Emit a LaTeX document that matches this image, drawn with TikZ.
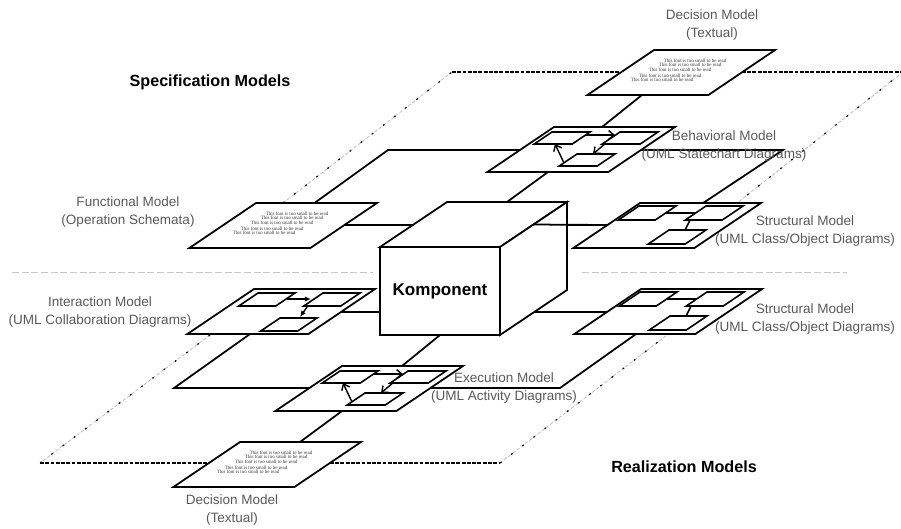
\documentclass[tikz,border=0pt]{standalone}
\usepackage{fontspec}
\setmainfont{Liberation Sans}
\newfontfamily\tinyserif{Liberation Serif}
\usetikzlibrary{calc,arrows.meta}

% parallelogram: [style] top left corner, width, height
\newcommand{\slab}[4][plane]{\draw[#1] (#2) -- ++(#3,0) -- ++({-1.48*#4},#4) -- ++(-#3,0) -- cycle;}

% statechart / activity sketch, inside a shifted scope
\newcommand{\statechart}[1]{%
  \slab[box]{-2,5}{38}{12}
  \slab[box]{66,5}{38}{12}
  \slab[box]{23,27}{38}{12}
  \coordinate (#1-a1) at (32,8);  \coordinate (#1-b1) at (61,8);
  \coordinate (#1-b2) at (52,16); \coordinate (#1-c1) at (39,27);
  \coordinate (#1-c2) at (10,36); \coordinate (#1-a2) at (1,17);
  \draw[flow] (#1-a1) -- (#1-b1);
  \draw[flow] (#1-b2) -- (#1-c1);
  \draw[flow] (#1-c2) -- (#1-a2);
}

% class / object sketch, inside a shifted scope
\newcommand{\classes}[1]{%
  \slab[box]{-1,3}{37}{14}
  \slab[box]{66,3}{37}{14}
  \slab[box]{29,27}{37}{14}
  \coordinate (#1-a) at (26,10); \coordinate (#1-b) at (56,10);
  \coordinate (#1-b2) at (50,17); \coordinate (#1-c) at (45,27);
  \draw[box] (#1-a) -- (#1-b);
  \draw[box] (#1-b2) -- (#1-c);
}

% text that is too small to be read
\newcommand{\smalltext}[1]{%
  \foreach \dx/\dy [count=\k] in {41/11,36/15,26/20,16/26,8/30}
    \node[small] (#1-t\k) at ($(#1-tl)+(\dx,\dy)$) {This font is too small to be read};
}

\tikzset{
  plane/.style={draw, fill=white, line width=1pt, line join=miter},
  box/.style={draw, fill=white, line width=0.9pt, line join=miter},
  link/.style={draw, line width=1pt},
  flow/.style={line width=0.8pt, -{Straight Barb[length=3pt,width=5pt]}},
  msg/.style={line width=0.8pt, -{Latex[length=3.5pt,width=3pt]}},
  kube/.style={draw, fill=white, line width=1pt, outer sep=0pt, minimum width=2.4cm, minimum height=1.76cm, font=\bfseries\fontsize{9.7}{11}\selectfont},
  label/.style={align=center, text=black!65, inner sep=0pt, font=\fontsize{7.7}{10.3}\selectfont},
  title/.style={inner sep=0pt, font=\bfseries\fontsize{9.2}{11}\selectfont},
  small/.style={inner sep=0pt, text=black!80, font=\tinyserif\fontsize{2.8}{3}\selectfont},
  rimdash/.style={line width=1.1pt, dash pattern=on 2.2pt off 0.8pt},
  sidedash/.style={draw=gray!55, line width=0.4pt, dash pattern=on 2pt off 1pt, postaction={draw=black, line width=0.7pt, dash pattern=on 1pt off 7pt}},
  cutline/.style={draw=gray!45, line width=0.5pt, dash pattern=on 4pt off 1.5pt},
}

\begin{document}
\begin{tikzpicture}[x=0.02cm, y=-0.02cm]
\useasboundingbox (0,0) rectangle (901,528);

%Cut between the two levels
\draw[cutline] (12,272) -- (373,272);
\draw[cutline] (582,272) -- (847,272);

%Specification level
\draw[sidedash] (283,203) -- (452,72);
\draw[rimdash] (452,72) -- (903,72);
\draw[sidedash] (903,72) -- (737,203);
\draw[link] (388,150) -- (783,150) -- (670,225) -- (284,225) -- cycle;

%Realization level
\draw[sidedash] (210,335) -- (40,463);
\draw[rimdash] (40,463) -- (500,463);
\draw[sidedash] (500,463) -- (667,335);
\draw[link] (281,312) -- (667,312) -- (560,388) -- (174,388) -- cycle;

%Component cube
\node[kube] (komp) at (440,291) {Komponent};
\draw[plane] (komp.north west) -- ++(67,-45) -- ++(120,0) -- (komp.north east) -- cycle;
\draw[plane] (komp.north east) -- ++(67,-45) -- ++(0,88) -- (komp.south east) -- cycle;
\coordinate (cube-back) at ($(komp.north)+(67,-45)$);
\coordinate (cube-right) at ($(komp.north east)+(33.5,-22.5)$);

%Connectors
\coordinate (decS-out) at (642,95);
\coordinate (beh-in) at (602,127);
\coordinate (beh-out) at (548,172);
\coordinate (strS-in) at (608,225);
\coordinate (exe-in) at (402,366);
\coordinate (exe-out) at (342,411);
\coordinate (decR-in) at (300,442);
\draw[link] (decS-out) -- (beh-in);
\draw[link] (beh-out) -- (cube-back);
\draw[link] (cube-right) -- (strS-in);
\draw[link] (komp.south) -- (exe-in);
\draw[link] (exe-out) -- (decR-in);

%Specification models
\coordinate (decS-tl) at (654,50);
\coordinate (beh-tl) at (554,127);
\coordinate (fun-tl) at (256,203);
\coordinate (strS-tl) at (640,203);
\slab{decS-tl}{121}{45}
\smalltext{decS}
\slab{beh-tl}{121}{45}
\begin{scope}[shift={(beh-tl)}]
  \statechart{beh}
\end{scope}
\slab{fun-tl}{121}{45}
\smalltext{fun}
\slab{strS-tl}{121}{45}
\begin{scope}[shift={(strS-tl)}]
  \classes{strS}
\end{scope}

%Realization models
\coordinate (inter-tl) at (254,289);
\coordinate (strR-tl) at (641,289);
\coordinate (exe-tl) at (342,366);
\coordinate (decR-tl) at (240,442);
\slab{inter-tl}{121}{45}
\begin{scope}[shift={(inter-tl)}]
  \slab[box]{4,4}{37}{13}
  \slab[box]{69,4}{37}{13}
  \slab[box]{26,29}{37}{13}
  \coordinate (inter-a) at (33,10); \coordinate (inter-b) at (57,10);
  \coordinate (inter-b2) at (53,18); \coordinate (inter-c) at (46,28);
  \draw[msg] (inter-a) -- (inter-b);
  \draw[msg] (inter-b2) -- (inter-c);
\end{scope}
\slab{strR-tl}{121}{45}
\begin{scope}[shift={(strR-tl)}]
  \classes{strR}
\end{scope}
\slab{exe-tl}{121}{45}
\begin{scope}[shift={(exe-tl)}]
  \statechart{exe}
\end{scope}
\slab{decR-tl}{121}{45}
\smalltext{decR}

%Labels
\node[title] (spec) at (210,82) {Specification Models};
\node[title] (real) at (684,467) {Realization Models};
\node[label] (decS-lbl) at (712,25) {Decision Model\\(Textual)};
\node[label] (beh-lbl) at (724,146) {Behavioral Model\\(UML Statechart Diagrams)};
\node[label] (fun-lbl) at (128,212) {Functional Model\\(Operation Schemata)};
\node[label] (strS-lbl) at (805,231) {Structural Model\\(UML Class/Object Diagrams)};
\node[label] (inter-lbl) at (100,312) {Interaction Model\\(UML Collaboration Diagrams)};
\node[label] (strR-lbl) at (805,319) {Structural Model\\(UML Class/Object Diagrams)};
\node[label] (exe-lbl) at (504,388) {Execution Model\\(UML Activity Diagrams)};
\node[label] (decR-lbl) at (232,510) {Decision Model\\(Textual)};
\end{tikzpicture}
\end{document}
